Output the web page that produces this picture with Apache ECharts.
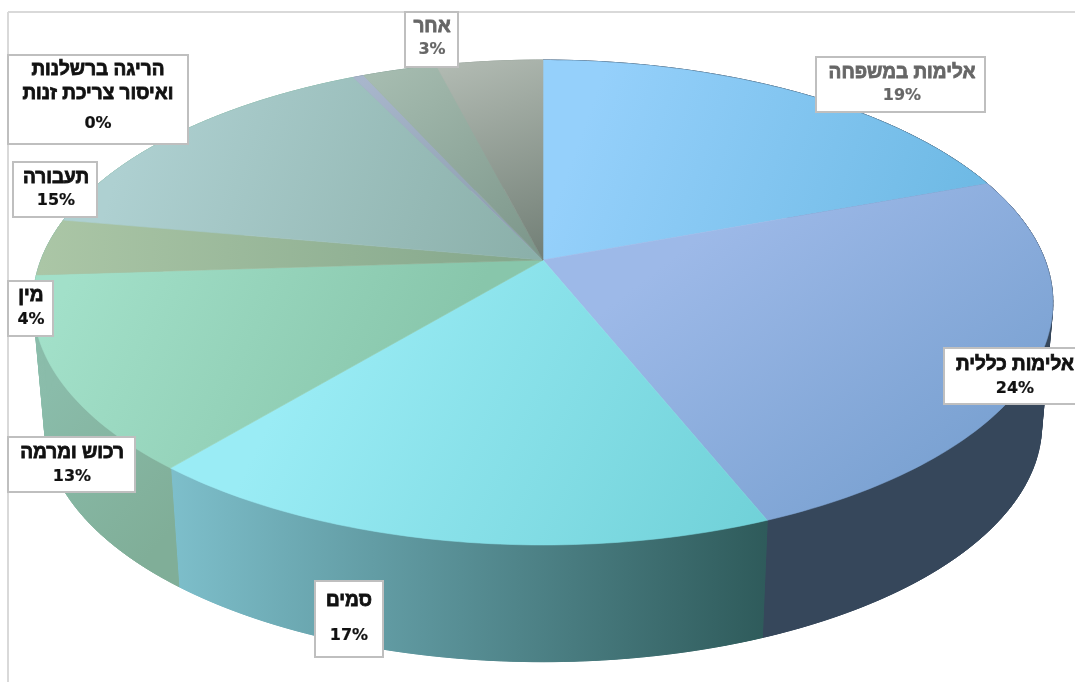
<!DOCTYPE html>
<html><head><meta charset="utf-8">
<script src="https://cdn.jsdelivr.net/npm/echarts@6/dist/echarts.min.js"></script>
<style>html,body{margin:0;padding:0;background:#fff;overflow:hidden}#c{width:1075px;height:682px}</style>
</head><body><div id="c"></div>
<script>
// Data
const categories = ['אלימות במשפחה','אלימות כללית','סמים','רכוש ומרמה','מין','תעבורה','הריגה ברשלנות ואיסור צריכת זנות','אחר','ללא תווית'];
const values = [19.4, 24.5, 17.2, 12.9, 3.8, 15.0, 0.4, 2.8, 4.0];
const labelTitles = [['אלימות במשפחה'],['אלימות כללית'],['סמים'],['רכוש ומרמה'],['מין'],['תעבורה'],['הריגה ברשלנות','ואיסור צריכת זנות'],['אחר']];
const labelPercents = ['19%','24%','17%','13%','4%','15%','0%','3%'];

// Layout and style, separate from the data
const G = {cx:543, cy:260, A:502, B:235, p:0.1753, s:0.978, off:123};
const boxes = [
 {x:816,y:57,w:169,h:55,cx:902,ys:[73,96],c:'#666'},
 {x:944,y:348,w:140,h:56,cx:1015,ys:[365,389],c:'#111'},
 {x:315,y:581,w:68,h:76,cx:349,ys:[601,636],c:'#111'},
 {x:8,y:437,w:127,h:55,cx:72,ys:[453,477],c:'#111'},
 {x:8,y:281,w:45,h:55,cx:31,ys:[296,320],c:'#111'},
 {x:13,y:162,w:84,h:55,cx:56,ys:[178,201],c:'#111'},
 {x:8,y:55,w:180,h:89,cx:98,ys:[70,94,124],c:'#111'},
 {x:405,y:12,w:53,h:55,cx:432,ys:[27,50],c:'#666'}
];
const grad = (x0,y0,x1,y1,c0,c1)=>new echarts.graphic.LinearGradient(x0,y0,x1,y1,[{offset:0,color:c0},{offset:1,color:c1}],true);
const topFill = [
 grad(600,80,960,210,'#95d0fb','#6fbae5'),
 grad(760,190,960,450,'#9db9e8','#7ba2d2'),
 grad(330,300,770,520,'#9aecf5','#70d1d8'),
 grad(60,300,400,460,'#a2e0c9','#88c6ab'),
 grad(40,250,540,262,'#abc6a6','#83a68b'),
 grad(130,130,530,260,'#aed0d1','#8bb0aa'),
 grad(360,80,530,250,'#a8b6cc','#8a9cac'),
 grad(380,70,530,260,'#a6bcb0','#7c968a'),
 grad(470,60,540,260,'#b0b9b1','#727f76')
];
const wallFill = [
 '#36475b','#36475b',
 grad(175,500,770,500,'#7dbeca','#2e5a5a'),
 grad(40,400,180,520,'#8abcaa','#80ae98'),
 '#8abcaa','#8abcaa','#8a98a8','#8aa49a','#98a49c'
];
const total = values.reduce((a,b)=>a+b,0);
const startOf = i => values.slice(0,i).reduce((a,b)=>a+b,0);
function proj(t){ // t: share of the full circle, clockwise from the top
  const a=t*2*Math.PI, u=Math.sin(a), v=-Math.cos(a), w=1-G.p*v;
  return [G.cx+G.A*u/w, G.cy+G.B*v/w];
}
const low = P=>[G.cx+(P[0]-G.cx)*G.s, G.cy+(P[1]-G.cy)*G.s+G.off];
function arc(i,val){
  const t0=startOf(i)/total, t1=t0+val/total, n=Math.max(4,Math.ceil((t1-t0)*360)), pts=[];
  for(let k=0;k<=n;k++) pts.push(proj(t0+(t1-t0)*k/n));
  return pts;
}
const renderWall=(params,api)=>{
  const i=params.dataIndex, pts=arc(i,api.value(0)), children=[];
  for(let k=0;k<pts.length-1;k++){
    children.push({type:'polygon',shape:{points:[pts[k],pts[k+1],low(pts[k+1]),low(pts[k])]},
      style:{fill:wallFill[i],stroke:wallFill[i],lineWidth:0.6}});
  }
  children.push({type:'polygon',shape:{points:pts.concat(pts.map(low).reverse())},
    style:{fill:wallFill[i],stroke:wallFill[i],lineWidth:1}});
  return {type:'group',children,silent:true};
};
const renderTop=(params,api)=>{
  const i=params.dataIndex, pts=arc(i,api.value(0));
  const poly=[[G.cx,G.cy]].concat(pts);
  return {type:'polygon',shape:{points:poly},style:{fill:topFill[i],stroke:topFill[i],lineWidth:0.6},silent:true};
};
const renderLabel=(params,api)=>{
  const i=params.dataIndex,b=boxes[i],lines=labelTitles[i].concat([labelPercents[i]]);
  const children=[{type:'rect',shape:{x:b.x,y:b.y,width:b.w,height:b.h},style:{fill:'#fff',stroke:'#bfbfbf',lineWidth:2}}];
  lines.forEach((t,k)=>{
    const isPct=k===lines.length-1;
    children.push({type:'text',x:b.cx,y:b.ys[k],style:{text:t,fill:b.c,stroke:b.c,lineWidth:isPct?0.2:0.8,
      font:isPct?'bold 16px "DejaVu Sans"':'bold 19px "Liberation Sans"',textAlign:'center',textVerticalAlign:'middle'}});
  });
  return {type:'group',children,silent:true};
};
const chart=echarts.init(document.getElementById('c'),null,{renderer:'canvas'});
chart.setOption({
  animation:false,backgroundColor:'#fff',
  graphic:[
   {type:'line',z:0,shape:{x1:8,y1:12,x2:1075,y2:12},style:{stroke:'#d9d9d9',lineWidth:2}},
   {type:'line',z:0,shape:{x1:8,y1:12,x2:8,y2:682},style:{stroke:'#d9d9d9',lineWidth:2}}
  ],
  series:[
   {type:'custom',coordinateSystem:'none',z:2,renderItem:renderWall,data:values.map(v=>[v]),clip:false},
   {type:'custom',coordinateSystem:'none',z:3,renderItem:renderTop,data:values.map(v=>[v]),clip:false},
   {type:'custom',coordinateSystem:'none',z:4,renderItem:renderLabel,data:labelPercents.map(p=>[parseFloat(p)]),clip:false}
  ]
});
</script></body></html>
